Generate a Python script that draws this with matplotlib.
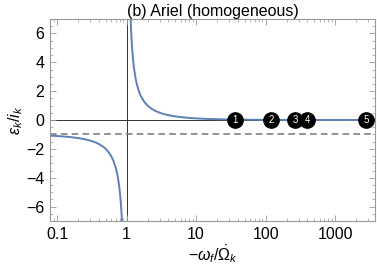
import matplotlib
matplotlib.use('Agg')
import matplotlib.pyplot as plt
from matplotlib.ticker import LogLocator, MultipleLocator, NullFormatter, FixedLocator, FixedFormatter

plt.rcParams['font.family'] = ['Liberation Sans', 'DejaVu Sans']
plt.rcParams['mathtext.fontset'] = 'custom'
plt.rcParams['mathtext.rm'] = 'Liberation Sans'
plt.rcParams['mathtext.it'] = 'Liberation Sans:italic'

# curve: branch below the resonance
left_x = [0.079, 0.1, 0.15, 0.2, 0.25, 0.3, 0.35, 0.4, 0.45, 0.5, 0.55, 0.6,
          0.65, 0.7, 0.73, 0.76, 0.79, 0.81, 0.83, 0.85, 0.86]
left_y = [-1.086, -1.111, -1.176, -1.25, -1.333, -1.429, -1.538, -1.667, -1.818,
          -2.0, -2.222, -2.5, -2.857, -3.333, -3.704, -4.167, -4.762, -5.263,
          -5.882, -6.667, -7.143]
# branch above the resonance
right_x = [1.14, 1.16, 1.18, 1.2, 1.23, 1.26, 1.3, 1.35, 1.4, 1.5, 1.6, 1.8, 2,
           2.3, 2.6, 3, 3.5, 4, 5, 6, 8, 10, 15, 20, 30, 50, 100, 200, 500, 1000, 3750]
right_y = [7.143, 6.25, 5.556, 5.0, 4.348, 3.846, 3.333, 2.857, 2.5, 2.0, 1.667,
           1.25, 1.0, 0.769, 0.625, 0.5, 0.4, 0.333, 0.25, 0.2, 0.143, 0.111,
           0.071, 0.053, 0.034, 0.02, 0.01, 0.005, 0.002, 0.001, 0.0003]

# numbered modes
mode_x = [36, 121, 264, 398, 2820]
mode_labels = ['1', '2', '3', '4', '5']

xticks = [0.1, 1, 10, 100, 1000]
xtick_labels = ['0.1', '1', '10', '100', '1000']

fig = plt.figure(figsize=(3.77, 2.73), dpi=100)
ax = fig.add_axes([50 / 377, 1 - 221 / 273, 325 / 377, 202 / 273])

blue = '#5E81B5'
ax.axvline(1, color='#333333', lw=0.7, zorder=1)
ax.axhline(0, color='#333333', lw=0.7, zorder=1)
ax.axhline(-1, color='#808080', lw=1.2, ls=(0, (4, 2.5)), zorder=1)
ax.plot(left_x, left_y, color=blue, lw=1.4, zorder=2)
ax.plot(right_x, right_y, color=blue, lw=1.4, zorder=2)

for mx, lab in zip(mode_x, mode_labels):
    ax.plot(mx, 0, 'o', ms=11, color='black', zorder=3)
    ax.text(mx, 0, lab, color='white', ha='center', va='center',
            fontsize=7, zorder=4)

ax.set_xscale('log')
ax.set_xlim(0.079, 3750)
ax.set_ylim(-7, 7)

ax.xaxis.set_major_locator(FixedLocator(xticks))
ax.xaxis.set_major_formatter(FixedFormatter(xtick_labels))
ax.xaxis.set_minor_locator(LogLocator(base=10, subs=range(2, 10), numticks=20))
ax.xaxis.set_minor_formatter(NullFormatter())
ax.yaxis.set_minor_locator(MultipleLocator(0.5))
ax.set_yticks([-6, -4, -2, 0, 2, 4, 6])
ax.set_yticklabels(['\u22126', '\u22124', '\u22122', '0', '2', '4', '6'])

ax.tick_params(which='both', direction='in', top=True, right=True,
               color='#999999', labelsize=11.5)
ax.tick_params(which='major', length=4, width=0.6, pad=4)
ax.tick_params(which='minor', length=2, width=0.5)
for s in ax.spines.values():
    s.set_color('#999999')
    s.set_linewidth(0.8)

ax.set_title('(b) Ariel (homogeneous)', fontsize=11.5, pad=2)
ax.set_xlabel(r'$-\omega_f/\dot{\Omega}_k$', fontsize=11.5, labelpad=1)
ax.set_ylabel(r'$\epsilon_k/i_k$', fontsize=11.5, labelpad=1)

plt.savefig('out.png', dpi=100)
plt.close(fig)
